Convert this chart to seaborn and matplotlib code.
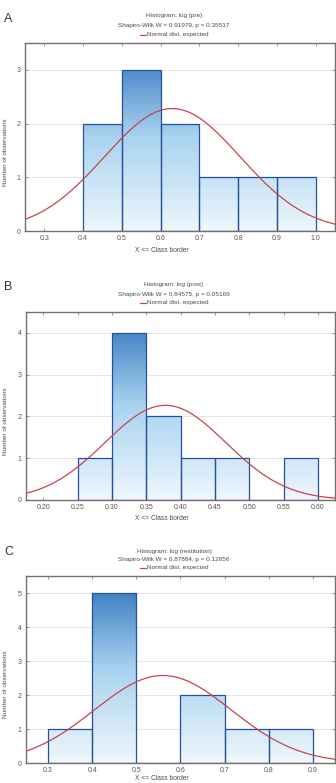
import numpy as np
import pandas as pd
import matplotlib
matplotlib.use("Agg")
import matplotlib.pyplot as plt
import seaborn as sns
from matplotlib.colors import LinearSegmentedColormap
from matplotlib.lines import Line2D

sns.set_theme(style="white")
plt.rcParams['font.family'] = ['Liberation Sans', 'DejaVu Sans']

# ---- data ----
panel_letters = ["A", "B", "C"]
titles = ["Histogram: log (pre)", "Histogram: log (post)", "Histogram: log (restitution)"]
sw_texts = ["Shapiro-Wilk W = 0.91979, p = 0.35517",
            "Shapiro-Wilk W = 0.84575, p = 0.05169",
            "Shapiro-Wilk W = 0.87884, p = 0.12656"]
edges_a = [0.4, 0.5, 0.6, 0.7, 0.8, 0.9, 1.0]
counts_a = [2, 3, 2, 1, 1, 1]
edges_b = [0.25, 0.30, 0.35, 0.40, 0.45, 0.50, 0.55, 0.60]
counts_b = [1, 4, 2, 1, 1, 0, 1]
edges_c = [0.3, 0.4, 0.5, 0.6, 0.7, 0.8, 0.9]
counts_c = [1, 5, 0, 2, 1, 1]
means = [0.63, 0.378, 0.56]
sds = [0.175, 0.088, 0.155]
xticks_a = [0.3, 0.4, 0.5, 0.6, 0.7, 0.8, 0.9, 1.0]
xticks_b = [0.20, 0.25, 0.30, 0.35, 0.40, 0.45, 0.50, 0.55, 0.60]
xticks_c = [0.3, 0.4, 0.5, 0.6, 0.7, 0.8, 0.9]
yticks_a = [0, 1, 2, 3]
yticks_b = [0, 1, 2, 3, 4]
yticks_c = [0, 1, 2, 3, 4, 5]

panels = [
    dict(edges=edges_a, counts=counts_a, xticks=xticks_a, yticks=yticks_a,
         xlim=(0.25, 1.05), ylim=(0, 3.5), fmt="{:.1f}"),
    dict(edges=edges_b, counts=counts_b, xticks=xticks_b, yticks=yticks_b,
         xlim=(0.175, 0.625), ylim=(0, 4.5), fmt="{:.2f}"),
    dict(edges=edges_c, counts=counts_c, xticks=xticks_c, yticks=yticks_c,
         xlim=(0.25, 0.95), ylim=(0, 5.5), fmt="{:.1f}"),
]

W, H = 336, 783
fig = plt.figure(figsize=(W / 100, H / 100), dpi=100)

# axes boxes in pixels: left, top, right, bottom
boxes = [(25, 43, 335, 231), (26, 312, 335, 500), (26, 576, 335, 763)]
title_y = [(16, 25, 34.5), (285, 294, 303), (551, 559.5, 568)]
letter_y = [19, 287, 552]
xlabel_y = [251, 519, 779]

cmap = LinearSegmentedColormap.from_list("barg", ["#eef7fd", "#a9d3ef", "#2b70bc"])
spine_col = "#7d6b6b"
text_col = "#4a4a4a"
curve_col = "#c8434f"
edge_col = "#24509f"

for i, p in enumerate(panels):
    l, t, r, b = boxes[i]
    ax = fig.add_axes([l / W, 1 - b / H, (r - l) / W, (b - t) / H])
    edges = list(p["edges"])
    counts = list(p["counts"])
    centers = [(edges[k] + edges[k + 1]) / 2 for k in range(len(counts))]
    df = pd.DataFrame({"x": centers, "w": counts})
    sns.histplot(data=df, x="x", weights="w", bins=edges, ax=ax,
                 edgecolor=edge_col, linewidth=0.9, facecolor="none", alpha=1)
    ax.set_xlim(*p["xlim"])
    ax.set_ylim(*p["ylim"])
    # gradient fill clipped to bars
    ymax = p["ylim"][1]
    grad = np.linspace(0, 1, 256).reshape(-1, 1)
    for patch in list(ax.patches):
        x0 = patch.get_x()
        w = patch.get_width()
        h = patch.get_height()
        if h <= 0:
            continue
        im = ax.imshow(grad, cmap=cmap, origin="lower", aspect="auto",
                       extent=(x0, x0 + w, 0, ymax), zorder=1.5, vmin=0, vmax=1)
        im.set_clip_path(patch)
        patch.set_zorder(2)
    ax.set_xlim(*p["xlim"])
    ax.set_ylim(*p["ylim"])

    # expected normal curve
    N = float(sum(counts))
    bw = edges[1] - edges[0]
    xs = np.linspace(p["xlim"][0], p["xlim"][1], 300)
    ys = N * bw * np.exp(-0.5 * ((xs - means[i]) / sds[i]) ** 2) / (sds[i] * np.sqrt(2 * np.pi))
    sns.lineplot(x=xs, y=ys, ax=ax, color=curve_col, linewidth=0.9, zorder=3)

    ax.set_xticks(p["xticks"])
    ax.set_xticklabels([p["fmt"].format(v) for v in p["xticks"]])
    ax.set_yticks(p["yticks"])
    ax.set_yticklabels([str(v) for v in p["yticks"]])
    ax.tick_params(axis="both", direction="in", length=2, width=0.5, color=spine_col,
                   labelsize=5, labelcolor="#555555", pad=3,
                   top=True, right=True, bottom=True, left=True)
    ax.grid(axis="y", color="#e2e2e2", linewidth=0.6)
    ax.set_axisbelow(True)
    for s in ax.spines.values():
        s.set_color(spine_col)
        s.set_linewidth(1.0)
    ax.set_xlabel("X <= Class border", fontsize=4.8, color=text_col)
    ax.xaxis.set_label_coords((162 - l) / (r - l), (b - xlabel_y[i]) / (b - t))
    ax.xaxis.label.set_va("center")
    ax.set_ylabel("Number of observations", fontsize=4.6, color=text_col)
    ax.yaxis.set_label_coords((6 - l) / (r - l), 0.42)
    ax.yaxis.label.set_va("center")

    # titles
    cx = 174 / W
    fig.text(cx, 1 - title_y[i][0] / H, titles[i], ha="center", va="center",
             fontsize=4.6, color=text_col)
    fig.text(cx, 1 - title_y[i][1] / H, sw_texts[i], ha="center", va="center",
             fontsize=4.6, color=text_col)
    ly = 1 - title_y[i][2] / H
    fig.add_artist(Line2D([140 / W, 146 / W], [ly, ly], color=curve_col, linewidth=0.9))
    fig.text(147 / W, ly, "Normal dist. expected", ha="left", va="center",
             fontsize=4.6, color=text_col)
    fig.text(4 / W, 1 - letter_y[i] / H, panel_letters[i], ha="left", va="center",
             fontsize=9, color="#333333")

fig.savefig("out.png", dpi=100)
